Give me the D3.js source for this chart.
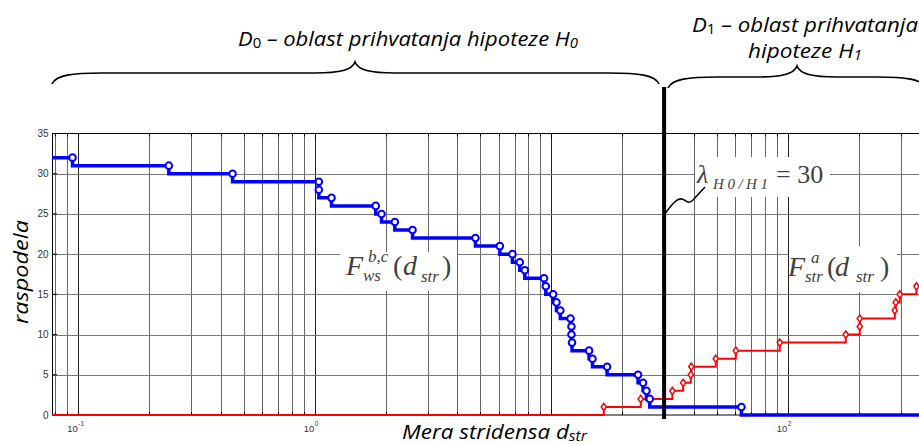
<!DOCTYPE html>
<html><head><meta charset="utf-8">
<script src="https://cdn.jsdelivr.net/npm/d3@7"></script>
<style>body{margin:0;background:#fff;} svg{display:block;}</style>
</head><body>
<svg id="c" width="919" height="445"></svg>
<script>
// ---- data ----
const yTicks = [0, 5, 10, 15, 20, 25, 30, 35];
const decades = [0.1, 1, 10, 100];
const labeledDecades = [0.1, 1, 100];
const decadeExp = ["-1", "0", "2"];
const xDomain = [0.0774, 535];
const yDomain = [0, 35];
const blueX = [0.0945, 0.2414, 0.449, 1.04, 1.04, 1.177, 1.81, 1.915, 2.18, 2.59, 4.78, 6.06, 6.85, 7.36, 7.73,
  9.32, 9.48, 10.18, 10.52, 10.92, 12.06, 12.17, 12.17, 12.24, 14.45, 14.94, 17.22, 23.28, 24.44, 25.27, 26.09, 63.7];
const blueY = [32, 31, 30, 29, 28, 27, 26, 25, 24, 23, 22, 21, 20, 19, 18, 17, 16, 15, 14, 13, 12, 11, 10, 9, 8, 7, 6, 5, 4, 3, 2, 1];
const redX = [16.68, 23.9, 32.5, 36.1, 38.9, 39.1, 49.6, 60.3, 92.5, 175.9, 201.6, 201.6, 283.5, 286, 297.6, 350];
const redY = [1, 2, 3, 4, 5, 6, 7, 8, 9, 10, 11, 12, 13, 14, 15, 16];
const threshold = 30;

const svg = d3.select("#c");
const x = d3.scaleLog().domain(xDomain).range([52, 960]);
const y = d3.scaleLinear().domain(yDomain).range([415, 133.5]);
const X0 = 52, X1 = 919, Y0 = 415, Y1 = 133.5;

const minor = [];
for (let e = -2; e <= 2; e++) for (let k = 1; k <= 9; k++) {
  const v = k * Math.pow(10, e);
  if (v >= xDomain[0] && x(v) <= X1) minor.push(v);
}

// grid
const g = svg.append("g");
g.selectAll("line.vg").data(minor).join("line")
  .attr("x1", d => Math.round(x(d)) + 0.5).attr("x2", d => Math.round(x(d)) + 0.5)
  .attr("y1", Y1).attr("y2", Y0)
  .attr("stroke", d => decades.includes(d) ? "#222" : "#666").attr("stroke-width", 1);
g.selectAll("line.hg").data(yTicks.slice(1, -1)).join("line")
  .attr("x1", X0).attr("x2", X1)
  .attr("y1", d => Math.round(y(d)) + 0.5).attr("y2", d => Math.round(y(d)) + 0.5)
  .attr("stroke", "#777").attr("stroke-width", 1);

// white annotation boxes
svg.append("rect").attr("x", 340).attr("y", 252).attr("width", 117).attr("height", 39).attr("fill", "#fff");
svg.append("rect").attr("x", 789).attr("y", 246).attr("width", 108).attr("height", 46).attr("fill", "#fff");
svg.append("rect").attr("x", 695).attr("y", 157).attr("width", 135).attr("height", 40).attr("fill", "#fff");

// frame
svg.append("line").attr("x1", X0).attr("x2", X1).attr("y1", Y1).attr("y2", Y1).attr("stroke", "#000");
svg.append("line").attr("x1", X0).attr("x2", X1).attr("y1", Y0).attr("y2", Y0).attr("stroke", "#000");
svg.append("line").attr("x1", X0 + 0.5).attr("x2", X0 + 0.5).attr("y1", Y1).attr("y2", Y0).attr("stroke", "#000");

// x ticks top and bottom
minor.forEach(v => {
  const L = decades.includes(v) ? 5 : 3;
  const xx = Math.round(x(v)) + 0.5;
  svg.append("line").attr("x1", xx).attr("x2", xx).attr("y1", Y1).attr("y2", Y1 + L).attr("stroke", "#000");
  svg.append("line").attr("x1", xx).attr("x2", xx).attr("y1", Y0).attr("y2", Y0 - L).attr("stroke", "#000");
});
// y ticks
yTicks.forEach(v => {
  svg.append("line").attr("x1", X0).attr("x2", X0 + 5).attr("y1", y(v)).attr("y2", y(v)).attr("stroke", "#000");
  svg.append("text").attr("x", 48.5).attr("y", y(v) + 3.5).attr("text-anchor", "end")
    .attr("font-family", "Liberation Sans, Arial").attr("font-size", 10).attr("fill", "#333").text(v);
});
// x tick labels
labeledDecades.forEach((v, i) => {
  svg.append("text").attr("x", x(v) - 0.5).attr("y", 432).attr("text-anchor", "end")
    .attr("font-family", "Liberation Sans, Arial").attr("font-size", 9.5).attr("fill", "#333").text("10");
  svg.append("text").attr("x", x(v)).attr("y", 426).attr("font-family", "Liberation Sans, Arial")
    .attr("font-size", 6.5).attr("fill", "#333").text(decadeExp[i]);
});

// red curve
let rp = [[xDomain[0], 0]];
redX.forEach((v, i) => { rp.push([v, redY[i] - 1]); rp.push([v, redY[i]]); });
rp.push([xDomain[1], redY[redY.length - 1]]);
const line = d3.line().x(d => x(d[0])).y(d => y(d[1]));
svg.append("path").attr("d", line(rp)).attr("fill", "none").attr("stroke", "#f00").attr("stroke-width", 2);
svg.selectAll("path.dm").data(redX).join("path")
  .attr("d", (d, i) => { const cx = x(d), cy = y(redY[i]); return `M${cx},${cy - 3.6}L${cx + 2.6},${cy}L${cx},${cy + 3.6}L${cx - 2.6},${cy}Z`; })
  .attr("fill", "#fff").attr("stroke", "#f00").attr("stroke-width", 1.5);

// blue curve
let bp = [[xDomain[0], blueY[0]]];
blueX.forEach((v, i) => { bp.push([v, blueY[i]]); bp.push([v, blueY[i] - 1]); });
bp.push([xDomain[1], 0]);
svg.append("path").attr("d", line(bp)).attr("fill", "none").attr("stroke", "#00f").attr("stroke-width", 3.5);
svg.selectAll("circle.bm").data(blueX).join("circle")
  .attr("cx", d => x(d)).attr("cy", (d, i) => y(blueY[i])).attr("r", 3.3)
  .attr("fill", "#fff").attr("stroke", "#00f").attr("stroke-width", 2);

// threshold line
svg.append("line").attr("x1", x(threshold)).attr("x2", x(threshold)).attr("y1", 87).attr("y2", 419)
  .attr("stroke", "#000").attr("stroke-width", 4);

// wavy leader
svg.append("path").attr("d", `M${x(threshold)},215 C672,204 677,198 682,199 C686,200 688,205 693,200 L705,187`)
  .attr("fill", "none").attr("stroke", "#000").attr("stroke-width", 1.6);

// braces
function brace(x1, xt, x2, yEnd, yMid, yTip) {
  return `M${x1},${yEnd} C${x1 + 4},${yMid + 2} ${x1 + 20},${yMid} ${x1 + 50},${yMid}` +
    ` L${xt - 40},${yMid} C${xt - 15},${yMid} ${xt - 3},${yMid - 3} ${xt},${yTip}` +
    ` C${xt + 3},${yMid - 3} ${xt + 15},${yMid} ${xt + 40},${yMid}` +
    ` L${x2 - 50},${yMid} C${x2 - 20},${yMid} ${x2 - 4},${yMid + 2} ${x2},${yEnd}`;
}
svg.append("path").attr("d", brace(52, 355, 659, 84, 73, 62)).attr("fill", "none").attr("stroke", "#000").attr("stroke-width", 1.7);
svg.append("path").attr("d", brace(668, 797, 926, 88, 77, 66)).attr("fill", "none").attr("stroke", "#000").attr("stroke-width", 1.7);

// top texts
const sans = "'Open Sans', Lato, sans-serif";
function regionText(x0, yb, parts, size, len) {
  const t = svg.append("text").attr("x", x0).attr("y", yb)
    .attr("font-family", sans).attr("font-size", size).attr("font-style", "italic").attr("fill", "#000")
    .attr("textLength", len).attr("lengthAdjust", "spacingAndGlyphs");
  parts.forEach(p => {
    const s = t.append("tspan").text(p.t);
    if (p.sub) s.attr("font-size", size * 0.68).attr("dy", 1.5);
    if (p.back) s.attr("dy", -1.5);
    if (p.up) s.attr("font-style", "normal");
  });
  return t;
}
regionText(238, 46, [{t: "D"}, {t: "0", sub: true, up: true}, {t: " – oblast prihvatanja hipoteze H", back: true}, {t: "0", sub: true}], 20, 340);
regionText(692, 32, [{t: "D"}, {t: "1", sub: true, up: true}, {t: " – oblast prihvatanja", back: true}], 20, 226);
regionText(748, 58, [{t: "hipoteze H"}, {t: "1", sub: true}], 20, 114);

// axis labels
svg.append("text").attr("transform", "translate(28,324) rotate(-90)")
  .attr("font-family", sans).attr("font-style", "italic").attr("font-size", 20)
  .attr("textLength", 104).attr("lengthAdjust", "spacingAndGlyphs").text("raspodela");
const xl = svg.append("text").attr("x", 402).attr("y", 439).attr("font-family", sans).attr("font-style", "italic").attr("font-size", 20)
  .attr("textLength", 185).attr("lengthAdjust", "spacingAndGlyphs");
xl.append("tspan").text("Mera stridensa d");
xl.append("tspan").attr("font-size", 14).attr("dy", 1.5).text("str");

// math annotations (each formula is one text element with positioned tspans)
const serif = "'Liberation Serif', 'Times New Roman', serif";
const ann = "#404040";
function formula(parts) {
  const t = svg.append("text").attr("font-family", serif).attr("fill", ann);
  parts.forEach(p => {
    t.append("tspan").attr("x", p[0]).attr("y", p[1]).attr("font-size", p[3])
      .attr("font-style", p[4] ? "italic" : "normal").text(p[2]);
  });
  return t;
}
formula([[346, 275, "F", 28, true], [368, 262, "b,c", 17, true], [363, 281, "ws", 17, true],
  [393, 275, "(", 28, false], [403, 275, "d", 28, true], [421, 282, "str", 17, true], [442, 275, ")", 28, false]]);
formula([[788, 276, "F", 28, true], [811, 262.5, "a", 17, true], [805, 282, "str", 17, true],
  [827, 276, "(", 28, false], [835, 276, "d", 28, true], [856, 282, "str", 17, true], [880, 276, ")", 28, false]]);
formula([[697, 183, "λ", 26, true], [776, 183, "= 30", 26, false]]);
svg.append("text").attr("x", 713).attr("y", 189).attr("font-family", serif).attr("font-size", 15)
  .attr("font-style", "italic").attr("fill", ann).attr("textLength", 55).attr("lengthAdjust", "spacing").text("H0/H1");
</script>
</body></html>
